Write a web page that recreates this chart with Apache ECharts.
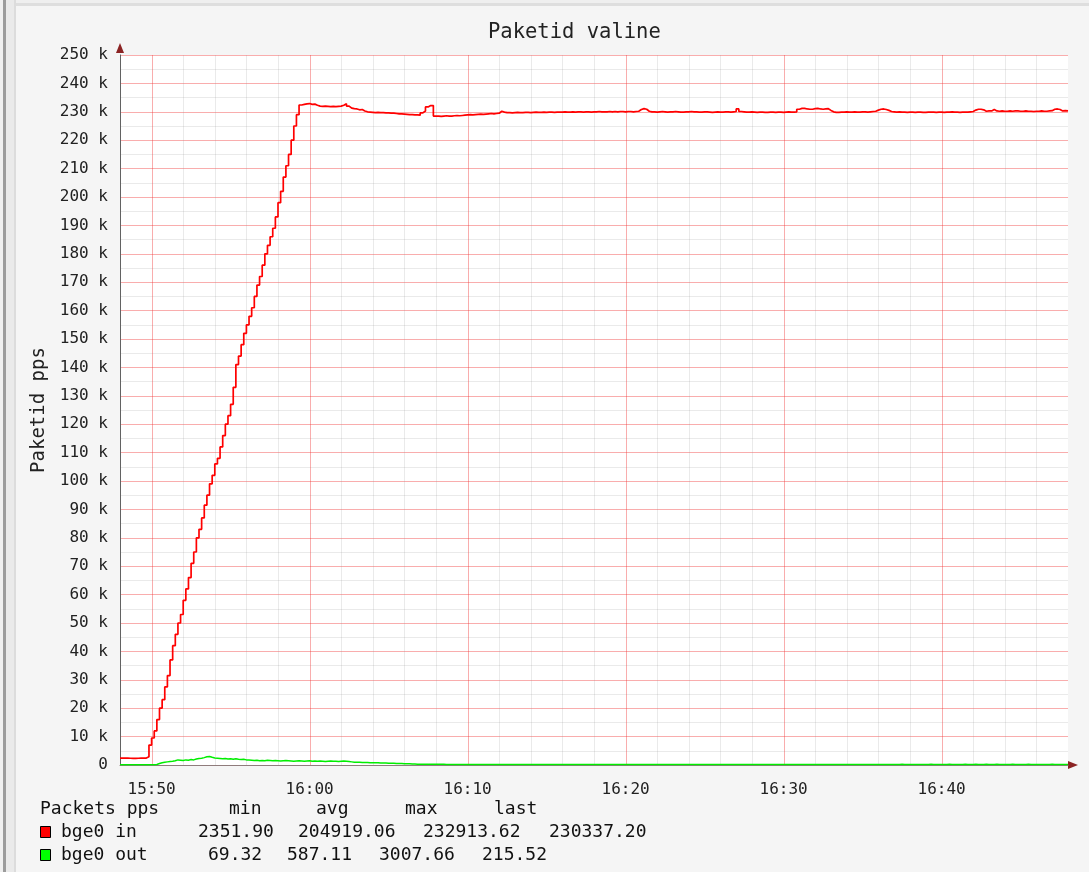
<!DOCTYPE html>
<html><head><meta charset="utf-8">
<script src="https://cdn.jsdelivr.net/npm/echarts@6/dist/echarts.min.js"></script>
<style>html,body{margin:0;padding:0;background:#f5f5f5}#c{width:1089px;height:872px}</style>
</head><body><div id="c"></div><script>
// ---------- data ----------
const titleText = 'Paketid valine';
const yAxisName = 'Paketid pps';
const startTime = '15:48:00';   // first sample
const stepSeconds = 10;          // sample step
const axisStart = '15:48:00';
const axisEnd = '16:48:00';
const xMajorTicks = ['15:50', '16:00', '16:10', '16:20', '16:30', '16:40'];
const xMinorTicks = ['15:48','15:52','15:54','15:56','15:58','16:02','16:04','16:06','16:08',
  '16:12','16:14','16:16','16:18','16:22','16:24','16:26','16:28','16:32','16:34','16:36','16:38',
  '16:42','16:44','16:46'];
const yTickValues = [0,10,20,30,40,50,60,70,80,90,100,110,120,130,140,150,160,170,180,190,200,210,220,230,240,250];
const seriesNames = ['bge0 in', 'bge0 out'];
const seriesColors = ['#ff0000', '#00ee00'];
// kpps
const inK = [
2.45,2.42,2.40,2.38,2.36,2.35,2.37,2.40,2.42,2.45,
2.9,7.0,9.5,12,16,20,23,27.5,31.5,37,
42,46,50,53,58,62,66,71,75,80,
83,87,91.5,95,99,102,106,108,112,116,
120,123,127,133,141,144,148,152,155,158,
161,165,169,172,176,180,183,186,189,193,
198,202,207,211,215,220,225,229,232.4,232.6,
232.8,232.9,232.6,232.7,232.3,232.0,231.9,232.0,231.9,231.8,
231.9,231.8,231.9,232.0,232.3,232.8,232.0,231.3,231.1,231.0,
230.7,230.8,230.3,230.0,229.9,229.8,229.7,229.8,229.7,229.7,
229.6,229.6,229.5,229.5,229.4,229.3,229.3,229.2,229.1,229.0,
229.0,228.9,228.9,228.8,229.6,230.3,231.7,232.2,232.2,228.5,
228.5,228.4,228.5,228.6,228.5,228.5,228.6,228.7,228.6,228.7,
228.8,228.9,229.0,228.9,229.0,229.1,229.2,229.1,229.2,229.3,
229.4,229.3,229.4,229.5,230.2,229.9,229.7,229.7,229.6,229.7,
229.8,229.7,229.7,229.8,229.8,229.7,229.8,229.9,229.8,229.8,
229.9,229.8,229.9,229.9,229.8,229.9,229.9,229.9,230.0,229.9,
229.9,230.0,229.9,230.0,230.0,229.9,230.0,230.0,229.9,230.0,
230.0,230.1,230.0,230.0,230.0,230.1,230.0,230.1,230.0,230.1,
230.1,230.0,230.1,230.1,230.0,230.1,230.2,230.8,231.1,230.9,
230.2,230.0,230.0,229.9,230.0,230.1,230.0,229.9,230.0,230.0,
230.1,230.0,229.9,229.9,230.0,230.0,230.1,230.0,230.0,229.9,
229.9,230.0,230.0,229.9,229.8,229.9,230.0,229.9,229.9,230.0,
230.0,229.9,230.0,230.1,231.0,230.1,230.0,229.9,229.9,230.0,
229.9,229.8,229.9,229.9,229.8,229.8,229.9,229.9,229.8,229.9,
229.9,229.8,229.9,230.0,229.9,229.9,230.0,230.9,231.2,231.2,
231.0,230.9,230.9,231.1,231.2,231.0,230.9,231.0,231.1,230.5,
230.0,229.8,229.8,229.9,229.9,230.0,229.9,229.9,230.0,229.9,
229.9,230.0,230.0,229.9,230.0,230.1,230.2,230.6,230.9,231.0,
230.8,230.5,230.1,230.0,229.9,230.0,229.9,229.9,229.8,229.9,
229.9,229.8,229.9,229.9,229.8,229.8,229.9,229.9,229.9,229.8,
229.9,229.9,229.8,229.9,229.9,230.0,229.9,229.9,229.8,229.9,
229.9,229.9,230.0,230.1,230.6,230.9,230.9,230.7,230.2,230.3,
230.3,230.8,230.3,230.2,230.3,230.2,230.2,230.3,230.2,230.3,
230.3,230.2,230.2,230.3,230.2,230.2,230.1,230.2,230.2,230.3,
230.2,230.2,230.3,230.4,230.9,231.0,230.8,230.3,230.4,230.3,
230.34
];
const outK = [
0.08,0.07,0.09,0.08,0.07,0.08,0.09,0.08,0.07,0.08,
0.09,0.10,0.12,0.2,0.5,0.8,1.0,1.1,1.2,1.3,
1.5,1.8,1.7,1.6,1.8,1.7,1.9,1.8,2.1,2.3,
2.4,2.6,2.9,3.0,2.7,2.5,2.4,2.3,2.2,2.3,
2.1,2.2,2.0,2.2,2.0,1.9,2.0,1.8,1.8,1.7,
1.6,1.7,1.5,1.6,1.5,1.7,1.6,1.5,1.6,1.5,
1.4,1.5,1.6,1.5,1.4,1.3,1.4,1.5,1.4,1.3,
1.4,1.5,1.3,1.4,1.3,1.4,1.3,1.2,1.3,1.4,
1.3,1.3,1.2,1.3,1.4,1.3,1.2,1.1,1.0,1.0,
1.0,0.9,0.9,0.9,0.8,0.8,0.8,0.8,0.7,0.7,
0.7,0.6,0.6,0.6,0.5,0.5,0.5,0.45,0.4,0.4,
0.35,0.35,0.3,0.3,0.3,0.28,0.27,0.26,0.25,0.25,
0.24,0.23,0.23,0.22,0.22,0.21,0.21,0.2,0.2,0.2,
0.19,0.2,0.18,0.19,0.2,0.18,0.17,0.19,0.18,0.2,
0.19,0.18,0.17,0.18,0.19,0.17,0.16,0.18,0.17,0.16,
0.18,0.17,0.16,0.15,0.17,0.16,0.18,0.17,0.16,0.15,
0.16,0.17,0.15,0.16,0.18,0.17,0.16,0.15,0.16,0.17,
0.15,0.16,0.17,0.16,0.15,0.14,0.16,0.17,0.16,0.15,
0.16,0.15,0.17,0.16,0.15,0.16,0.17,0.18,0.16,0.15,
0.16,0.17,0.16,0.15,0.16,0.18,0.17,0.16,0.15,0.16,
0.17,0.16,0.15,0.16,0.17,0.16,0.18,0.17,0.16,0.17,
0.16,0.15,0.16,0.17,0.18,0.16,0.17,0.16,0.15,0.16,
0.17,0.18,0.17,0.16,0.17,0.18,0.19,0.17,0.16,0.17,
0.18,0.17,0.16,0.17,0.18,0.17,0.16,0.18,0.19,0.18,
0.17,0.18,0.19,0.2,0.18,0.17,0.18,0.19,0.18,0.17,
0.18,0.19,0.18,0.17,0.19,0.2,0.19,0.18,0.19,0.18,
0.19,0.2,0.21,0.19,0.18,0.19,0.2,0.19,0.2,0.21,
0.2,0.19,0.2,0.21,0.2,0.19,0.2,0.21,0.22,0.2,
0.21,0.2,0.19,0.2,0.21,0.22,0.21,0.2,0.21,0.2,
0.21,0.22,0.21,0.2,0.21,0.22,0.23,0.21,0.2,0.21,
0.22,0.21,0.2,0.21,0.22,0.21,0.22,0.23,0.22,0.21,
0.22,0.21,0.2,0.22,0.23,0.22,0.21,0.22,0.21,0.22,
0.23,0.22,0.21,0.22,0.23,0.22,0.21,0.22,0.23,0.22,
0.21,0.22,0.23,0.22,0.21,0.22,0.21,0.22,0.23,0.22,
0.21,0.22,0.21,0.22,0.23,0.22,0.21,0.22,0.21,0.22,
0.22,0.21,0.22,0.23,0.22,0.21,0.22,0.21,0.22,0.21,
0.2155
];
const legendHeader = ['Packets pps', 'min', 'avg', 'max', 'last'];
const statsIn  = ['2351.90', '204919.06', '232913.62', '230337.20'];
const statsOut = ['69.32', '587.11', '3007.66', '215.52'];

// ---------- helpers ----------
function toSec(hms){ const p = hms.split(':').map(Number); return (p[0]-15)*3600 + p[1]*60 + (p[2]||0); }
function fmtTime(s){ const h = 15 + Math.floor(s/3600); const m = Math.floor((s%3600)/60); return h + ':' + (m<10?'0':'') + m; }
const t0 = toSec(startTime);
const inData = inK.map((v,i)=>[t0 + i*stepSeconds, v]);
const outData = outK.map((v,i)=>[t0 + i*stepSeconds, v]);
const gridLineData = xMinorTicks.map(t=>[toSec(t), 0]).concat(xMajorTicks.map(t=>[toSec(t), 1]));

const FONT = 'DejaVu Sans Mono';
const MAJOR = 'rgba(240,60,60,0.42)';
const MINOR = 'rgba(150,150,150,0.2)';

// legend graphics
const colX = [40, 229, 316, 405, 494];
const inX = [198, 298, 423, 549];
const outX = [208, 287, 379, 482];
const rowY = [809, 832, 855];
const gtext = (x,y,t)=>({type:'text', x:x, y:y, style:{text:t, font:'18px "DejaVu Sans Mono"', fill:'#111', verticalAlign:'middle', align:'left'}});
const graphics = [
  {type:'rect', shape:{x:0,y:0,width:3,height:872}, style:{fill:'#f0f0f0'}},
  {type:'rect', shape:{x:3,y:0,width:3,height:872}, style:{fill:'#9c9c9c'}},
  {type:'rect', shape:{x:6,y:0,width:8,height:872}, style:{fill:'#eaeaea'}},
  {type:'rect', shape:{x:14,y:0,width:2,height:872}, style:{fill:'#dcdcdc'}},
  {type:'rect', shape:{x:16,y:0,width:1073,height:3}, style:{fill:'#efefef'}},
  {type:'rect', shape:{x:16,y:3,width:1073,height:3}, style:{fill:'#dedede'}},
  {type:'polygon', shape:{points:[[120,43],[116,53],[124,53]]}, style:{fill:'#8b2323'}},
  {type:'polygon', shape:{points:[[1078,765],[1068,761],[1068,769]]}, style:{fill:'#8b2323'}},
];
legendHeader.forEach((t,i)=>graphics.push(gtext(colX[i], rowY[0], t)));
graphics.push({type:'rect', shape:{x:40.5,y:826.5,width:10,height:11}, style:{fill:seriesColors[0], stroke:'#000', lineWidth:1}});
graphics.push({type:'rect', shape:{x:40.5,y:849.5,width:10,height:11}, style:{fill:'#00ff00', stroke:'#000', lineWidth:1}});
graphics.push(gtext(61, rowY[1], seriesNames[0]));
graphics.push(gtext(61, rowY[2], seriesNames[1]));
statsIn.forEach((t,i)=>graphics.push(gtext(inX[i], rowY[1], t)));
statsOut.forEach((t,i)=>graphics.push(gtext(outX[i], rowY[2], t)));

const chart = echarts.init(document.getElementById('c'), null, {renderer:'canvas'});
chart.setOption({
  backgroundColor: '#f5f5f5',
  animation: false,
  title: { text: titleText, left: 483, top: 17, textStyle: { fontFamily: FONT, fontSize: 20.5, fontWeight: 'normal', color: '#222' } },
  grid: { left: 120, right: 21, top: 55, bottom: 107, show: true, backgroundColor: '#ffffff', borderWidth: 0 },
  xAxis: {
    type: 'value', min: toSec(axisStart), max: toSec(axisEnd), interval: 120,
    axisLine: { show: true, onZero: false, lineStyle: { color: '#8f7c7c', width: 1 } },
    axisTick: { show: false },
    axisLabel: { fontFamily: FONT, fontSize: 16, color: '#222', margin: 17,
      formatter: v => (xMajorTicks.indexOf(fmtTime(v)) >= 0 && v % 600 === 0 ? fmtTime(v) : '') },
    splitLine: { show: false }
  },
  yAxis: {
    type: 'value', min: yTickValues[0], max: yTickValues[yTickValues.length-1], interval: 10,
    name: yAxisName, nameLocation: 'middle', nameGap: 70,
    nameTextStyle: { fontFamily: FONT, fontSize: 19, color: '#222' },
    axisLine: { show: true, lineStyle: { color: '#555', width: 1 } },
    axisTick: { show: false },
    axisLabel: { fontFamily: FONT, fontSize: 16, color: '#222', margin: 12,
      formatter: v => (v === 0 ? '0' : v + ' k') },
    splitLine: { show: true, lineStyle: { color: MAJOR, width: 1 } },
    minorTick: { show: false, splitNumber: 2 },
    minorSplitLine: { show: true, lineStyle: { color: MINOR, width: 1 } }
  },
  series: [
    { name: 'xgrid', type: 'custom', data: gridLineData, z: 1, silent: true, clip: false,
      renderItem: (params, api) => {
        const cs = params.coordSys;
        const x = Math.round(api.coord([api.value(0), 0])[0]) + 0.5;
        return { type: 'line', shape: { x1: x, y1: cs.y, x2: x, y2: cs.y + cs.height },
          style: { stroke: api.value(1) ? MAJOR : MINOR, lineWidth: 1 } };
      } },
    { name: seriesNames[0], type: 'line', step: 'end', data: inData, showSymbol: false,
      lineStyle: { color: seriesColors[0], width: 1.7 }, itemStyle: { color: seriesColors[0] }, z: 3 },
    { name: seriesNames[1], type: 'line', step: 'end', data: outData, showSymbol: false,
      lineStyle: { color: seriesColors[1], width: 1.5 }, itemStyle: { color: seriesColors[1] }, z: 4 }
  ],
  graphic: graphics
});
</script></body></html>
